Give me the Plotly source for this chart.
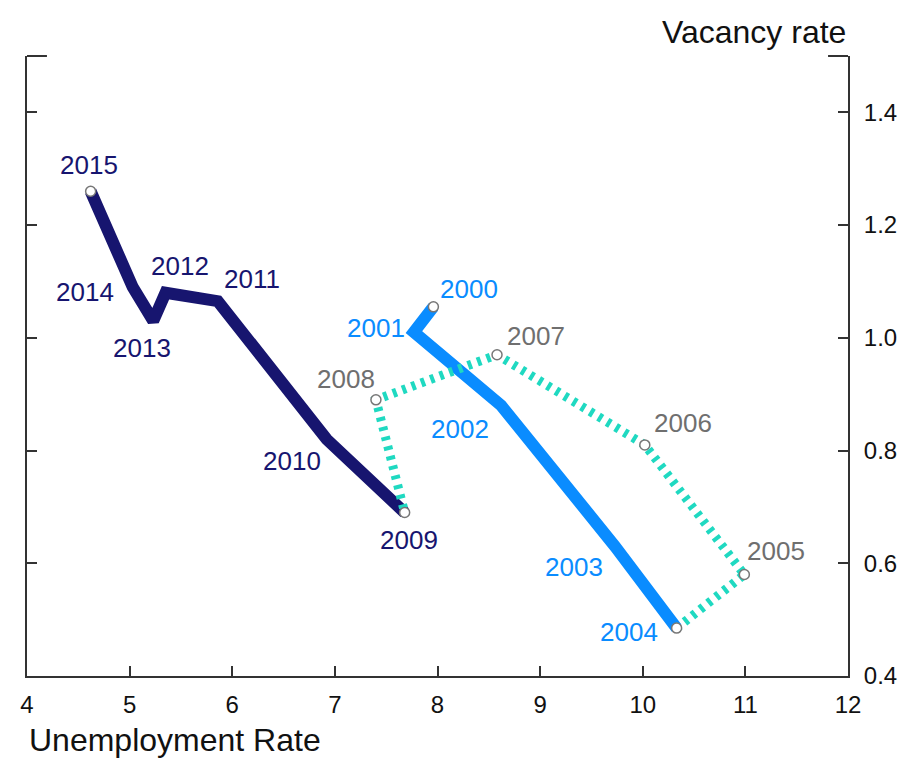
import plotly.graph_objects as go

# ---- data ----
navy_years = [2009, 2010, 2011, 2012, 2013, 2014, 2015]
navy_unemp = [7.68, 6.92, 5.86, 5.35, 5.23, 5.03, 4.62]
navy_vac = [0.69, 0.82, 1.065, 1.08, 1.03, 1.09, 1.26]

blue_years = [2000, 2001, 2002, 2003, 2004]
blue_unemp = [7.96, 7.77, 8.62, 9.73, 10.33]
blue_vac = [1.055, 1.01, 0.88, 0.63, 0.485]

teal_years = [2004, 2005, 2006, 2007, 2008, 2009]
teal_unemp = [10.33, 10.99, 10.02, 8.58, 7.40, 7.68]
teal_vac = [0.485, 0.58, 0.81, 0.97, 0.89, 0.69]

x_ticks = [4, 5, 6, 7, 8, 9, 10, 11, 12]
y_ticks = [0.4, 0.6, 0.8, 1.0, 1.2, 1.4]
y_ticktext = ["0.4", "0.6", "0.8", "1.0", "1.2", "1.4"]

# ---- styles ----
NAVY = "#17156f"
BLUE = "#0a8cff"
TEAL = "#1fd9c1"
GRAY_LBL = "#6f6f6f"
AXIS = "#333333"
FONT = "Liberation Sans, Arial, sans-serif"

# label pixel offsets (xshift, yshift) per year
label_offsets = {
    2015: (-2, 26), 2014: (-48, -5), 2013: (-11, -27), 2012: (14, 27),
    2011: (34, 22), 2010: (-35, -22), 2009: (4, -27), 2008: (-30, 21),
    2000: (36, 18), 2001: (-38, 4), 2007: (39, 19), 2002: (-41, -24),
    2006: (38, 22), 2005: (32, 24), 2003: (-41, -21), 2004: (-48, -4),
}

fig = go.Figure()

fig.add_trace(go.Scatter(x=navy_unemp, y=navy_vac, mode="lines",
                         line=dict(color=NAVY, width=12), hoverinfo="skip"))
fig.add_trace(go.Scatter(x=blue_unemp, y=blue_vac, mode="lines",
                         line=dict(color=BLUE, width=12), hoverinfo="skip"))
fig.add_trace(go.Scatter(x=teal_unemp, y=teal_vac, mode="lines",
                         line=dict(color=TEAL, width=9, dash="4px,6px"), hoverinfo="skip"))

# open circle markers
mk_x = [navy_unemp[-1], blue_unemp[0]] + teal_unemp
mk_y = [navy_vac[-1], blue_vac[0]] + teal_vac
fig.add_trace(go.Scatter(x=mk_x, y=mk_y, mode="markers",
                         marker=dict(symbol="circle", size=10, color="white",
                                     line=dict(color="#777777", width=1.5)),
                         hoverinfo="skip"))

annotations = []
def add_labels(years, xs, ys, color):
    for yr, xv, yv in zip(years, xs, ys):
        if any(a["text"] == str(yr) for a in annotations):
            continue
        dx, dy = label_offsets[yr]
        annotations.append(dict(x=xv, y=yv, text=str(yr), showarrow=False,
                                xshift=dx, yshift=dy,
                                font=dict(family=FONT, size=26, color=color)))

add_labels(navy_years, navy_unemp, navy_vac, NAVY)
add_labels(blue_years, blue_unemp, blue_vac, BLUE)
add_labels(teal_years, teal_unemp, teal_vac, GRAY_LBL)

annotations.append(dict(x=1, y=1, xref="paper", yref="paper", xanchor="right",
                        yanchor="bottom", yshift=4, text="Vacancy rate", showarrow=False,
                        font=dict(family=FONT, size=32, color="#111111")))
annotations.append(dict(x=0, y=0, xref="paper", yref="paper", xanchor="left",
                        yanchor="top", xshift=0, yshift=-44, text="Unemployment Rate",
                        showarrow=False,
                        font=dict(family=FONT, size=32, color="#111111")))

shapes = [
    dict(type="line", xref="paper", yref="paper", x0=0, x1=20 / 823, y0=1, y1=1,
         line=dict(color=AXIS, width=2)),
    dict(type="line", xref="paper", yref="paper", x0=1 - 20 / 823, x1=1, y0=1, y1=1,
         line=dict(color=AXIS, width=2)),
]

fig.update_layout(
    width=907, height=754,
    margin=dict(l=17, r=67, t=48, b=86),
    plot_bgcolor="white", paper_bgcolor="white",
    showlegend=False,
    annotations=annotations,
    shapes=shapes,
    xaxis=dict(range=[4, 12], tickvals=x_ticks, ticks="inside", ticklen=10,
               tickwidth=1.5, tickcolor=AXIS, showline=True, linecolor=AXIS,
               linewidth=2, showgrid=False, zeroline=False, ticklabelstandoff=6,
               tickfont=dict(family=FONT, size=24, color="#111111")),
    yaxis=dict(range=[0.4, 1.5], side="right", tickvals=y_ticks, ticktext=y_ticktext,
               ticks="inside", ticklen=10, tickwidth=1.5, tickcolor=AXIS,
               showline=True, linecolor=AXIS, linewidth=2, mirror="ticks",
               showgrid=False, zeroline=False, ticklabelstandoff=9,
               tickfont=dict(family=FONT, size=24, color="#111111")),
)

fig.write_html("out.html")
